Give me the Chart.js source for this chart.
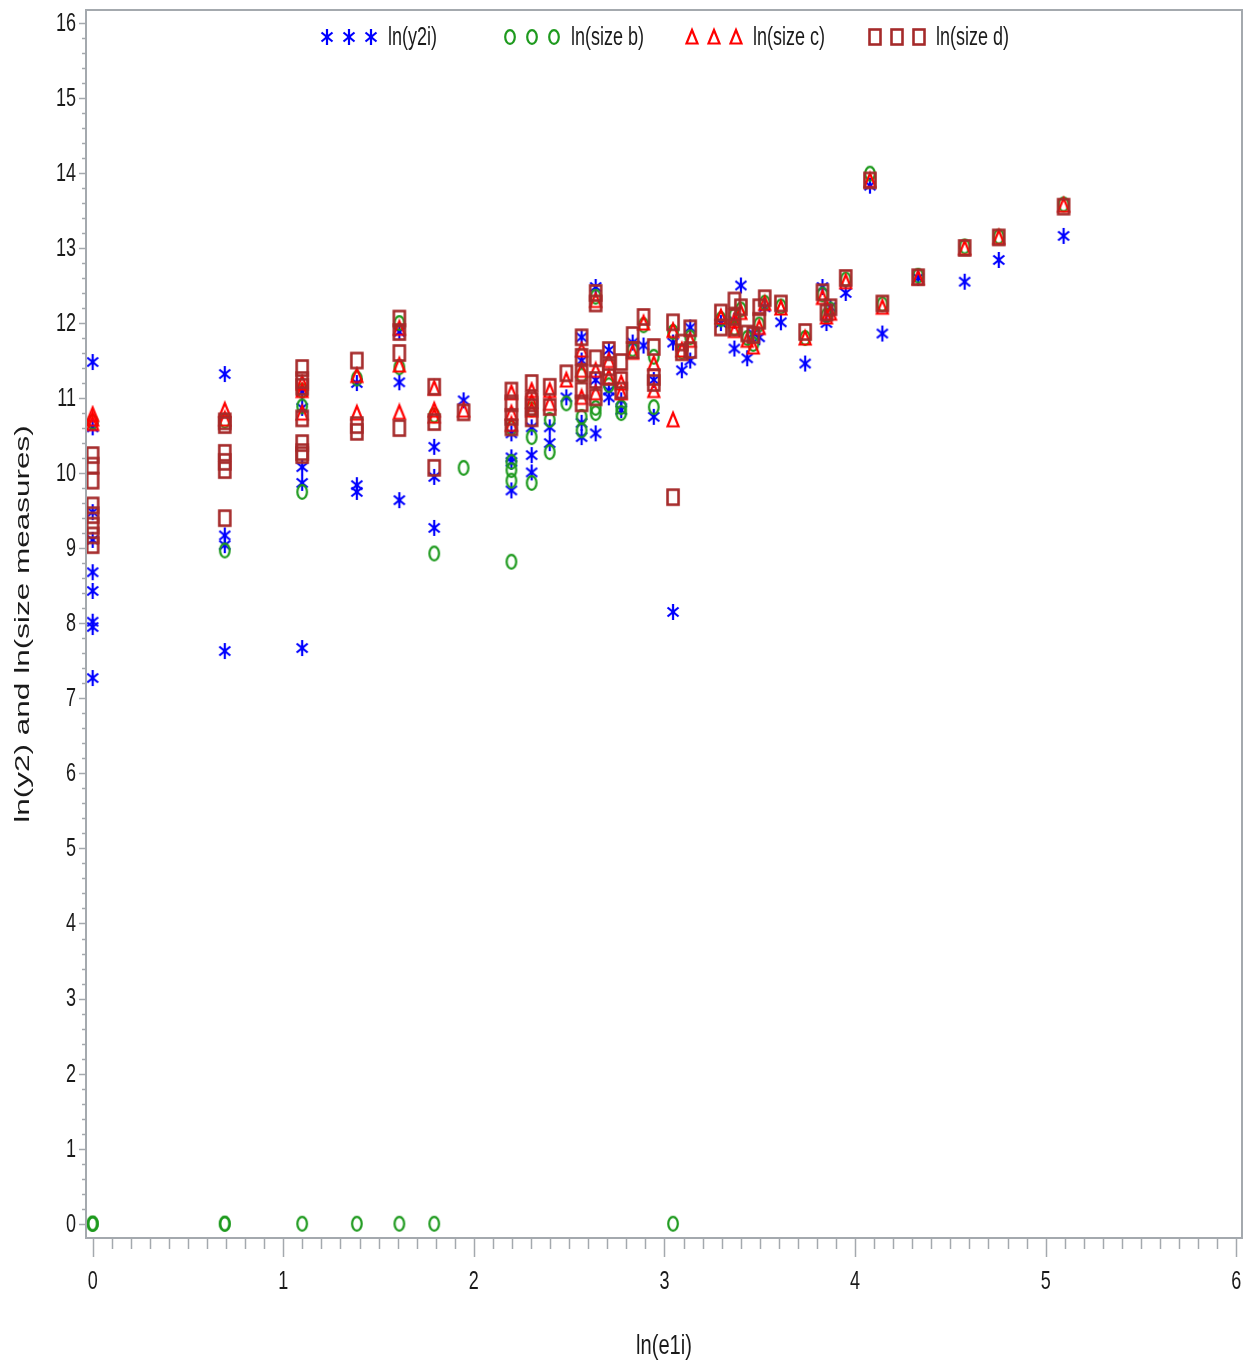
<!DOCTYPE html>
<html>
<head>
<meta charset="utf-8">
<script src="https://cdn.jsdelivr.net/npm/chart.js@4.4.0/dist/chart.umd.min.js"></script>
<style>
    html, body { margin: 0; padding: 0; background: #fff; }
</style>
</head>
<body>
<canvas id="myChart" width="1250" height="1366"></canvas>
<script>
// x positions (ln(e1i)) shared by every series
const lnE1i = [0, 0.693, 1.099, 1.386, 1.609, 1.792, 1.946, 2.197, 2.303, 2.398,
    2.485, 2.565, 2.639, 2.708, 2.773, 2.833, 2.890, 2.944, 3.045, 3.091,
    3.135, 3.296, 3.367, 3.401, 3.434, 3.466, 3.497, 3.526, 3.611, 3.738,
    3.829, 3.850, 3.871, 3.951, 4.078, 4.143, 4.331, 4.575, 4.754, 5.094];

// y values for each x position above, one group per position
const lnY2i = [
    [11.48, 10.61, 9.48, 9.11, 8.68, 8.43, 8.02, 7.95, 7.27], [11.32, 9.17, 9.04, 7.63],
    [11.08, 10.87, 10.08, 9.87, 7.67], [11.2, 9.84, 9.75], [11.88, 11.21, 9.64],
    [10.35, 9.95, 9.27], [10.97], [10.53, 10.21, 10.15, 9.77], [10.61, 10.24, 10.01],
    [10.61, 10.4], [11.01], [11.81, 11.5, 10.67, 10.48], [12.48, 11.24, 10.53],
    [11.64, 11.1, 11.01], [10.97, 10.84], [11.74], [11.7], [11.24, 10.75], [11.74, 8.15],
    [11.37], [11.94, 11.5], [12.0], [12.03, 11.66], [12.5], [11.53], [11.86], [11.81],
    [12.21], [12.01], [11.46], [12.48], [12.0], [12.21], [12.4], [13.83], [11.86],
    [12.6], [12.55], [12.84], [13.16]
];
const lnSizeB = [
    [0, 0, 0, 10.68], [0, 0, 8.97, 10.7], [0, 11.1, 10.89, 9.75], [0, 11.26], [0, 12.0, 11.41],
    [0, 10.77, 8.93], [10.07], [10.6, 10.15, 10.04, 9.9, 8.82], [10.85, 10.48, 9.87],
    [10.71, 10.28], [10.93], [11.3, 10.75, 10.57], [12.35, 10.87, 10.8], [11.17],
    [10.88, 10.8], [11.65], [11.97], [11.55, 10.88], [0, 11.88], [11.62], [11.81],
    [12.05], [12.1, 11.93], [12.18], [11.8], [11.72], [11.98], [12.27], [12.22], [11.8],
    [12.38], [12.1], [12.18], [12.58], [13.99], [12.25], [12.63], [13.02], [13.15], [13.58]
];
const lnSizeC = [
    [10.78, 10.72, 10.66], [10.84, 10.72], [11.2, 11.1, 10.8], [11.3, 10.8],
    [11.93, 11.44, 10.81], [11.13, 10.84, 10.76], [10.84], [11.07, 10.8, 10.65],
    [11.1, 10.95, 10.84], [11.1, 10.93], [11.24], [11.64, 11.37, 11.01],
    [12.3, 11.37, 11.07], [11.5, 11.28], [11.2, 11.07], [11.61], [12.0], [11.46, 11.1],
    [11.9, 10.71], [11.64], [11.77], [12.08], [12.03, 11.9], [12.14], [11.77], [11.68],
    [11.94], [12.26], [12.2], [11.8], [12.34], [12.08], [12.13], [12.55], [13.9],
    [12.21], [12.6], [13.0], [13.14], [13.57]
];
const lnSizeD = [
    [10.24, 10.1, 9.9, 9.57, 9.44, 9.3, 9.17, 9.04], [10.69, 10.64, 10.27, 10.15, 10.04, 9.4],
    [11.4, 11.24, 11.15, 10.73, 10.4, 10.28, 10.24], [11.5, 10.64, 10.55],
    [12.06, 11.88, 11.6, 10.6], [11.15, 10.68, 10.07], [10.81], [11.1, 10.93, 10.75, 10.61],
    [11.2, 10.97, 10.88, 10.73], [11.15, 10.88], [11.33], [11.81, 11.55, 11.33, 11.1, 10.93],
    [12.4, 12.26, 11.53, 11.24, 11.01], [11.64, 11.41, 11.28], [11.48, 11.24, 11.1],
    [11.84, 11.64], [12.08], [11.68, 11.28, 11.2], [12.01, 9.68], [11.74, 11.61],
    [11.93, 11.64], [12.14, 11.94], [12.3, 12.08, 11.94], [12.21], [11.86], [11.84],
    [12.21, 12.03], [12.33], [12.26], [11.88], [12.41], [12.14], [12.21], [12.6], [13.9],
    [12.26], [12.61], [13.0], [13.14], [13.55]
];

const xTicks = [0, 1, 2, 3, 4, 5, 6];
const yTicks = [0, 1, 2, 3, 4, 5, 6, 7, 8, 9, 10, 11, 12, 13, 14, 15, 16];
const seriesNames = ['ln(y2i)', 'ln(size b)', 'ln(size c)', 'ln(size d)'];

const sans = "'Liberation Sans', Arial, sans-serif";
const axisGray = '#a4a9ae';
const textColor = '#1a1a1a';

function toPoints(groups) {
    const pts = [];
    groups.forEach((ys, i) => ys.forEach(y => pts.push({ x: lnE1i[i], y: y })));
    return pts;
}

// SAS-like hollow symbols, slightly taller than wide
function makeMarker(shape, color) {
    const c = document.createElement('canvas');
    c.width = 16; c.height = 20;
    const g = c.getContext('2d');
    g.strokeStyle = color; g.fillStyle = color; g.lineWidth = 2.2;
    g.beginPath();
    if (shape === 'star') {
        g.moveTo(8, 2); g.lineTo(8, 18);
        g.moveTo(2.5, 5.5); g.lineTo(13.5, 14.5);
        g.moveTo(2.5, 14.5); g.lineTo(13.5, 5.5);
        g.stroke();
        g.beginPath(); g.arc(8, 10, 2.2, 0, Math.PI * 2); g.fill();
    } else if (shape === 'circle') {
        g.ellipse(8, 10, 4.8, 6.8, 0, 0, Math.PI * 2); g.stroke();
    } else if (shape === 'triangle') {
        g.moveTo(8, 3); g.lineTo(13.5, 16.5); g.lineTo(2.5, 16.5); g.closePath(); g.stroke();
    } else {
        g.lineWidth = 2.6;
        g.strokeRect(2.5, 2.5, 11, 15);
    }
    return c;
}

const markers = [
    makeMarker('star', '#0000ff'),
    makeMarker('circle', '#1e9a1e'),
    makeMarker('triangle', '#ff0000'),
    makeMarker('square', '#a52a2a')
];

// narrow text: regular sans squeezed horizontally like the original
function narrowText(ctx, str, x, y, size, align) {
    ctx.save();
    ctx.translate(x, y);
    ctx.scale(0.72, 1);
    ctx.font = size + 'px ' + sans;
    ctx.textAlign = align;
    ctx.textBaseline = 'middle';
    ctx.fillText(str, 0, 0);
    ctx.restore();
}

const decorPlugin = {
    id: 'decor',
    afterDraw(chart) {
        const ctx = chart.ctx;
        const a = chart.chartArea;
        const xs = chart.scales.x, ys = chart.scales.y;
        ctx.save();
        ctx.strokeStyle = axisGray;
        ctx.fillStyle = textColor;

        // minor and major tick marks
        ctx.lineWidth = 1.5;
        for (let i = 0; i <= 80; i++) {
            const py = Math.round(ys.getPixelForValue(i * 0.2)) + 0.5;
            const len = i % 5 === 0 ? 7 : 4;
            ctx.beginPath(); ctx.moveTo(a.left, py); ctx.lineTo(a.left - len, py); ctx.stroke();
        }
        for (let i = 0; i <= 60; i++) {
            const px = Math.round(xs.getPixelForValue(i * 0.1)) + 0.5;
            const len = i % 10 === 0 ? 19 : 11;
            ctx.beginPath(); ctx.moveTo(px, a.bottom); ctx.lineTo(px, a.bottom + len); ctx.stroke();
        }

        // frame
        ctx.lineWidth = 2;
        ctx.strokeRect(a.left, a.top, a.right - a.left, a.bottom - a.top);

        // tick labels
        yTicks.forEach(v => narrowText(ctx, String(v), a.left - 10, ys.getPixelForValue(v) + 1, 25, 'right'));
        xTicks.forEach(v => narrowText(ctx, String(v), xs.getPixelForValue(v), 1282, 25, 'center'));

        // legend inside the top of the plot
        const legendX = [327, 510, 692, 875];
        legendX.forEach((lx, k) => {
            const m = markers[k];
            for (let j = 0; j < 3; j++) {
                ctx.drawImage(m, lx + j * 22 - m.width / 2, 37 - m.height / 2);
            }
            narrowText(ctx, seriesNames[k], lx + 61, 38, 25, 'left');
        });

        // axis titles
        narrowText(ctx, 'ln(e1i)', (a.left + a.right) / 2, 1346, 28, 'center');

        ctx.translate(23, (a.top + a.bottom) / 2);
        ctx.rotate(-Math.PI / 2);
        ctx.scale(1.5, 1);
        ctx.font = '21px ' + sans;
        ctx.textAlign = 'center';
        ctx.textBaseline = 'middle';
        ctx.fillText('ln(y2) and ln(size measures)', 0, 0);
        ctx.restore();
    }
};

const ctx = document.getElementById('myChart').getContext('2d');
const seriesData = [lnY2i, lnSizeB, lnSizeC, lnSizeD];

new Chart(ctx, {
    type: 'scatter',
    data: {
        datasets: seriesData.map((groups, k) => ({
            label: seriesNames[k],
            data: toPoints(groups),
            pointStyle: markers[k],
            pointRadius: 7,
            order: 4 - k
        }))
    },
    options: {
        responsive: false,
        animation: false,
        events: [],
        layout: { padding: { top: 10, right: 8, left: 0, bottom: 0 } },
        plugins: {
            legend: { display: false },
            tooltip: { enabled: false }
        },
        scales: {
            x: {
                type: 'linear',
                min: -0.035,
                max: 6.03,
                afterFit: s => { s.height = 128; s.paddingLeft = 0; s.paddingRight = 0; },
                afterBuildTicks: s => { s.ticks = xTicks.map(v => ({ value: v })); },
                grid: { display: false },
                border: { display: false },
                ticks: { display: false }
            },
            y: {
                type: 'linear',
                min: -0.19,
                max: 16.17,
                afterFit: s => { s.width = 86; s.paddingTop = 0; s.paddingBottom = 0; },
                afterBuildTicks: s => { s.ticks = yTicks.map(v => ({ value: v })); },
                grid: { display: false },
                border: { display: false },
                ticks: { display: false }
            }
        }
    },
    plugins: [decorPlugin]
});
</script>
</body>
</html>
